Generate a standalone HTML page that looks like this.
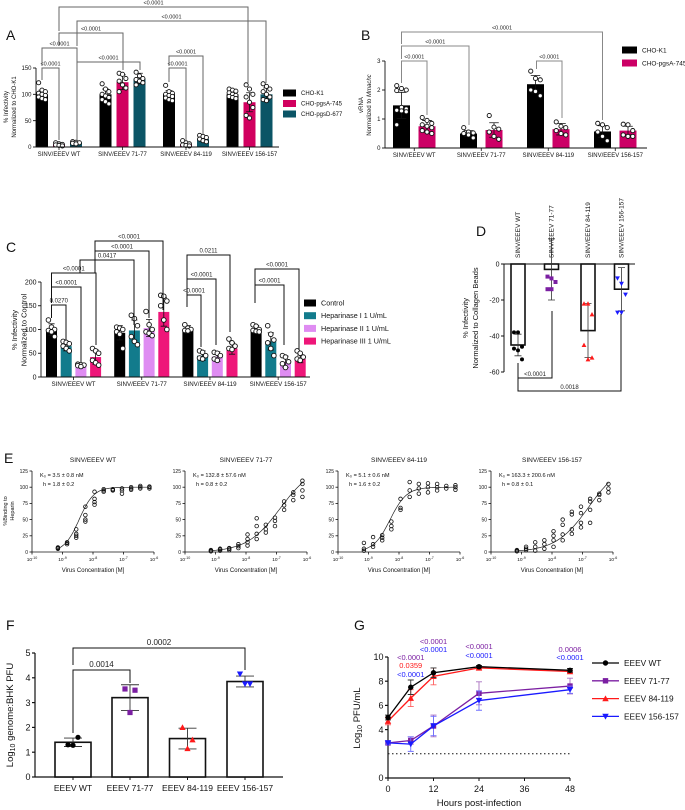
<!DOCTYPE html>
<html><head><meta charset="utf-8"><style>
html,body{margin:0;padding:0;background:#fff;}
svg{display:block;font-family:"Liberation Sans",sans-serif;}
</style></head><body>
<svg id="fig" width="685" height="810" viewBox="0 0 685 810" xmlns="http://www.w3.org/2000/svg"></svg>
<script>
// ---------- DATA ----------
const groupsSINV=['SINV/EEEV WT','SINV/EEEV 71-77','SINV/EEEV 84-119','SINV/EEEV 156-157'];
// Panel A
const aSeries=['CHO-K1','CHO-pgsA-745','CHO-pgsD-677'];
const aK1=[100,100,100,100];
const aPgsA=[5,123,5,85];
const aPgsD=[8,130,15,100];
const aK1Err=[8,10,7,6];
const aPgsAErr=[2,14,3,18];
const aPgsDErr=[2,10,4,12];
const aK1Pts=[[122,108,105,102,100,98,95,92,90],[120,110,105,100,97,94,90,86,82],[117,105,102,100,98,96,93,90,88],[110,108,106,103,100,98,96,94,92]];
const aPgsAPts=[[8,6,5,4,3,2],[140,138,130,125,118,112,105],[12,8,6,4,3,2],[118,110,100,95,85,75,60,55]];
const aPgsDPts=[[10,9,8,7,6],[142,135,130,128,125,122,118],[22,20,18,15,12,10],[120,115,110,105,100,95,90,88]];
const aTicks=[0,50,100,150];
// Panel B
const bSeries=['CHO-K1','CHO-pgsA-745'];
const bK1=[1.47,0.5,2.2,0.57];
const bPgsA=[0.75,0.62,0.65,0.6];
const bK1Err=[0.45,0.1,0.3,0.2];
const bPgsAErr=[0.2,0.25,0.2,0.15];
const bK1Pts=[[2.15,2.05,2.0,1.98,1.4,1.35,1.3,1.28,1.25,0.8],[0.7,0.55,0.52,0.5,0.45,0.35],[2.65,2.4,2.35,2.0,1.95,1.8],[0.85,0.8,0.7,0.55,0.4,0.25]];
const bPgsAPts=[[1.05,0.95,0.85,0.8,0.75,0.7,0.6,0.55,0.5],[1.12,0.72,0.65,0.55,0.4,0.3],[0.9,0.75,0.7,0.6,0.5,0.45],[0.82,0.8,0.6,0.45,0.4,0.4]];
const bTicks=[0,1,2,3];
// Panel C
const cSeries=['Control','Heparinase I 1 U/mL','Heparinase II 1 U/mL','Heparinase III 1 U/mL'];
const cCtrl=[100,93,100,100];
const cHep1=[65,98,45,75];
const cHep2=[25,103,43,32];
const cHep3=[42,137,60,38];
const cCtrlErr=[12,15,8,8];
const cHep1Err=[10,22,10,18];
const cHep2Err=[3,18,10,12];
const cHep3Err=[15,30,12,8];
const cCtrlPts=[[120,105,100,98,95,85],[105,103,100,95,90,60],[110,103,100,98,97],[110,107,100,98,96,95]];
const cHep1Pts=[[75,73,70,65,60,55],[130,123,108,85,75,68],[55,52,45,40,38],[108,90,78,72,60,45]];
const cHep2Pts=[[27,26,25,24,22],[138,110,100,95,92,87],[52,50,45,38,35],[45,42,32,28,20]];
const cHep3Pts=[[60,55,50,35,30,25],[172,170,160,150,120,100],[80,72,65,60,58],[55,50,42,38,35]];
const cTicks=[0,50,100,150,200];
// Panel D
const dMeans=[-45,-3,-37,-14];
const dErr=[6,17,15,12];
const dPts=[[-38,-38,-46,-47,-48,-53],[-7,-8,-10,-14,-14],[-22,-22,-28,-45,-53,-52],[-8,-11,-17,-27,-27]];
const dTicks=[0,-20,-40,-60];
// Panel E
const eTitles=['SINV/EEEV WT','SINV/EEEV 71-77','SINV/EEEV 84-119','SINV/EEEV 156-157'];
const eKdText=['K\u2080 = 3.5 ± 0.8 nM','K\u2080 = 132.8 ± 57.6 nM','K\u2080 = 5.1 ± 0.6 nM','K\u2080 = 163.3 ± 200.6 nM'];
const eHText=['h = 1.8 ± 0.2','h = 0.8 ± 0.2','h = 1.6 ± 0.2','h = 0.8 ± 0.1'];
const eKd=[3.5e-9,132.8e-9,5.1e-9,163.3e-9];
const eHill=[1.8,0.8,1.6,0.8];
const eBmax=[100,135,100,140];
const eLogConc=[-9.15,-8.85,-8.55,-8.25,-7.95,-7.65,-7.35,-7.05,-6.75,-6.45,-6.15];
const eWT=[[6,7,5],[12,14,15],[22,25,28,35],[47,50,57,70],[73,77,82,93],[93,95,97],[95,96,97],[90,95,98],[96,98,100],[98,100,102],[98,100,101]];
const e7177=[[1,2,3],[2,4,5],[3,5,6],[6,9,12],[10,15,20,27],[20,28,40,52],[30,35,42],[40,48,53],[65,72,78],[80,88,92],[85,95,105,110]];
const e84119=[[2,5,14],[8,12,23],[18,22,26],[35,40,47],[65,68,82],[85,95,108],[90,98,105],[92,100,106],[95,100,105],[98,102],[96,100,103]];
const e156157=[[1,2,3],[3,5,8],[2,8,15],[5,12,18],[8,18,25,32],[18,27,42,50],[28,35,58,62],[38,45,60,70],[45,65,78,82],[80,88,90],[92,98,105]];
const eYTicks=[0,25,50,75,100,125];
const eXTicks=[-10,-9,-8,-7,-6];
// Panel F
const fGroups=['EEEV WT','EEEV 71-77','EEEV 84-119','EEEV 156-157'];
const fMeans=[1.4,3.2,1.55,3.85];
const fErr=[0.17,0.52,0.42,0.22];
const fPts=[[1.3,1.6,1.28],[3.55,3.5,2.6],[2.0,1.5,1.15],[4.15,3.75,3.75]];
const fTicks=[0,1,2,3,4,5];
// Panel G
const gSeries=['EEEV WT','EEEV 71-77','EEEV 84-119','EEEV 156-157'];
const gTimes=[0,6,12,24,48];
const gWT=[5,7.5,8.7,9.2,8.9];
const g7177=[2.9,3.1,4.3,7.0,7.6];
const g84119=[4.7,6.6,8.4,9.1,8.8];
const g156157=[2.9,2.8,4.3,6.4,7.3];
const gWTErr=[0.2,0.6,0.4,0.1,0.15];
const g7177Err=[0.1,0.3,0.9,0.95,0.65];
const g84119Err=[0.3,0.7,0.7,0.1,0.1];
const g156157Err=[0.1,0.6,0.8,0.8,0.3];
const gXTicks=[0,12,24,36,48];
const gYTicks=[0,4,6,8,10];
const gLOD=2;

// ---------- HELPERS ----------
const NS='http://www.w3.org/2000/svg';
const svg=document.getElementById('fig');
function mk(tag,a,p){const e=document.createElementNS(NS,tag);for(const k in a)e.setAttribute(k,a[k]);(p||svg).appendChild(e);return e;}
function tx(x,y,s,size,opt,p){const e=mk('text',Object.assign({x:x,y:y,'font-size':size,'text-anchor':'middle',fill:'#111'},opt||{}),p);e.textContent=s;return e;}
function grp(name){const g=mk('g',{});


return g;}
function marker(p,shape,x,y,r,color){
  let e;
  if(shape==='open'){e=mk('circle',{cx:x,cy:y,r:r,fill:'#fff',stroke:'#111','stroke-width':0.9},p);}
  else if(shape==='dot'){e=mk('circle',{cx:x,cy:y,r:r,fill:color},p);}
  else if(shape==='sq'){e=mk('rect',{x:x-r,y:y-r,width:2*r,height:2*r,fill:color},p);}
  else if(shape==='up'){e=mk('polygon',{points:`${x},${y-r*1.2} ${x-r*1.2},${y+r} ${x+r*1.2},${y+r}`,fill:color},p);}
  else {e=mk('polygon',{points:`${x},${y+r*1.2} ${x-r*1.2},${y-r} ${x+r*1.2},${y-r}`,fill:color},p);}
  
  
  return e;}
function errbar(p,x,y1,y2,cap,color,w){
  const e=mk('path',{d:`M${x},${y1}V${y2}M${x-cap},${y1}H${x+cap}M${x-cap},${y2}H${x+cap}`,stroke:color||'#111','stroke-width':w||0.8,fill:'none'},p);
  
  }
function bracket(p,x1,x2,y,b1,b2,label,fs,color,dy){
  const e=mk('path',{d:`M${x1},${b1}V${y}H${x2}V${b2}`,stroke:color,'stroke-width':1,fill:'none'},p);
  
  
  const t=tx((x1+x2)/2,y+(dy||-2.5),label,fs,{fill:'#222'},p);
  
  }
function axisY(p,x,ticks,ys,fs,tickLen,w,fmt){
  const a=mk('line',{x1:x,x2:x,y1:ys(ticks[ticks.length-1]),y2:ys(ticks[0]),stroke:'#111','stroke-width':w},p);
  
  
  ticks.forEach(v=>{
    const l=mk('line',{x1:x-tickLen,x2:x,y1:ys(v),y2:ys(v),stroke:'#111','stroke-width':w},p);
    
    
    const t=tx(x-tickLen-1.5,ys(v)+fs*0.35,fmt?fmt(v):String(v),fs,{'text-anchor':'end'},p);
    
    });}
function ylabel(p,x,y,lines,fs,gap){
  lines.forEach((s,i)=>{const t=tx(x+i*gap,y,'',fs,{transform:`rotate(-90 ${x+i*gap} ${y})`},p);
    if(Array.isArray(s)){s.forEach(seg=>{const ts=mk('tspan',seg[1]||{},t);ts.textContent=seg[0];});}else t.textContent=s;
    
    });}
function panelLabel(s,x,y){const t=tx(x,y,s,14,{'text-anchor':'start'});
  
  }

function groupedBars(p,cfg){
  cfg.series.forEach((vals,s)=>{
    vals.forEach((v,g)=>{
      const cx=cfg.x(g,s);
      const r=mk('rect',{x:cx-cfg.bw/2,y:cfg.y(v),width:cfg.bw,height:cfg.y(0)-cfg.y(v),fill:cfg.colors[s]},p);
      
      
      const e=cfg.errs[s][g];
      errbar(p,cx,cfg.y(v+e),cfg.y(Math.max(0,v-e)),cfg.bw*0.28,'#111',0.8);
      const pts=cfg.pts[s][g];
      pts.forEach((pv,i)=>{const off=((i%3)-1)*cfg.bw*0.28;marker(p,'open',cx+off,cfg.y(pv),cfg.r);});
    });});
  const ax=mk('line',{x1:cfg.x0,x2:cfg.x1,y1:cfg.y(0),y2:cfg.y(0),stroke:'#111','stroke-width':0.9},p);
  
  
  cfg.groups.forEach((gname,g)=>{
    const mid=(cfg.x(g,0)+cfg.x(g,cfg.series.length-1))/2;
    const tk=mk('line',{x1:mid,x2:mid,y1:cfg.y(0),y2:cfg.y(0)+3,stroke:'#111','stroke-width':0.8},p);
    
    
    const t=tx(mid,cfg.y(0)+cfg.fs+3,gname,cfg.fs,{},p);
    
    });}
function legendBox(p,x,y,names,colors,fs,step,w,h){
  names.forEach((n,i)=>{
    const r=mk('rect',{x:x,y:y+i*step-h/2,width:w,height:h,fill:colors[i]},p);
    
    
    const t=tx(x+w+5,y+i*step+fs*0.35,n,fs,{'text-anchor':'start'},p);
    
    });}

// ---------- PANEL A ----------
(function(){
  const p=grp('panel-a');
  panelLabel('A',6,40);
  const y=v=>147-v*79/150;
  const x=(g,s)=>42+g*63.5+s*17;
  axisY(p,36,aTicks,y,6,3,0.9);
  ylabel(p,8,107,['% Infectivity','Normalized to CHO-K1'],6,8);
  groupedBars(p,{series:[aK1,aPgsA,aPgsD],errs:[aK1Err,aPgsAErr,aPgsDErr],pts:[aK1Pts,aPgsAPts,aPgsDPts],
    names:aSeries,colors:['#000','#d1005f','#0b5566'],x:x,y:y,bw:12,r:2.1,x0:36,x1:279,groups:groupsSINV,fs:6});
  const c='#666';
  bracket(p,42,59,68,80,140,'<0.0001',5.5,c);
  bracket(p,42,77,48,66,140,'<0.0001',5.5,c);
  bracket(p,59,123,33,46,70,'<0.0001',5.5,c);
  bracket(p,77,140,62,140,70,'<0.0001',5.5,c);
  bracket(p,59,248,7,31,83,'<0.0001',5.5,c);
  bracket(p,77,266,21,46,83,'<0.0001',5.5,c);
  bracket(p,169,186,68,82,140,'<0.0001',5.5,c);
  bracket(p,169,203,56,66,135,'<0.0001',5.5,c);
  legendBox(p,283,93,aSeries,['#000','#d1005f','#0b5566'],6,10.5,13,7);
})();

// ---------- PANEL B ----------
(function(){
  const p=grp('panel-b');
  panelLabel('B',361,40);
  const y=v=>148-v*29;
  const x=(g,s)=>401.5+g*67+s*25.5;
  axisY(p,385,bTicks,y,6,3,0.9);
  ylabel(p,363,105,['vRNA',[['Normalized to '],['Mmachc',{'font-style':'italic'}]]],6,8);
  groupedBars(p,{series:[bK1,bPgsA],errs:[bK1Err,bPgsAErr],pts:[bK1Pts,bPgsAPts],
    names:bSeries,colors:['#000','#cc0066'],x:x,y:y,bw:17,r:2.1,x0:385,x1:647,groups:groupsSINV,fs:6});
  const c='#888';
  bracket(p,401.5,427,61,83,115,'<0.0001',5.5,c);
  bracket(p,401.5,469,46,59,125,'<0.0001',5.5,c);
  bracket(p,401.5,602.5,32,44,120,'<0.0001',5.5,c);
  bracket(p,536.5,562,61,69,118,'<0.0001',5.5,c);
  legendBox(p,622,50,bSeries,['#000','#cc0066'],6.5,13,15,7);
})();

// ---------- PANEL C ----------
(function(){
  const p=grp('panel-c');
  panelLabel('C',6,252);
  const y=v=>377-v*0.475;
  const x=(g,s)=>51.5+g*68.2+s*14.7;
  axisY(p,41,cTicks,y,7,3,0.9);
  ylabel(p,17,330,['% Infectivity','Normalized to Control'],7.5,9.5);
  const cols=['#000','#127b8c','#df8cf2','#ee1679'];
  groupedBars(p,{series:[cCtrl,cHep1,cHep2,cHep3],errs:[cCtrlErr,cHep1Err,cHep2Err,cHep3Err],pts:[cCtrlPts,cHep1Pts,cHep2Pts,cHep3Pts],
    names:cSeries,colors:cols,x:x,y:y,bw:11,r:2.3,x0:41,x1:310,groups:groupsSINV,fs:6.2});
  const c='#111';
  bracket(p,51.5,66,305,318,340,'0.0270',6,c);
  bracket(p,51.5,81,287,303,362,'<0.0001',6,c);
  bracket(p,51.5,96,273,287,345,'<0.0001',6,c);
  bracket(p,80,134,260,273,325,'0.0417',6,c);
  bracket(p,95,149,251,273,318,'<0.0001',6,c);
  bracket(p,95,163,241,251,310,'<0.0001',6,c);
  bracket(p,187,201,295,307,347,'<0.0001',6,c);
  bracket(p,187,216,279,295,345,'<0.0001',6,c);
  bracket(p,187,230,255,279,332,'0.0211',6,c);
  bracket(p,255,284,285,303,345,'<0.0001',6,c);
  bracket(p,255,299,269,285,350,'<0.0001',6,c);
  legendBox(p,304,303,cSeries,cols,7.2,12.7,12,7);
})();

// ---------- PANEL D ----------
(function(){
  const p=grp('panel-d');
  panelLabel('D',476,236);
  const y=v=>264-v*1.8;
  const xs=[518,551.5,588,621.5];
  const shapes=['dot','sq','up','down'];
  const cols=['#000','#7b1fa2','#ff1a1a','#1a1aff'];
  axisY(p,504,dTicks,y,7,3,1);
  ylabel(p,468,318,['% Infectivity','Normalized to Collagen Beads'],7.5,10);
  const ax=mk('line',{x1:504,x2:635,y1:y(0),y2:y(0),stroke:'#111','stroke-width':1},p);
  
  
  dMeans.forEach((v,i)=>{
    const r=mk('rect',{x:xs[i]-7,y:y(0),width:14,height:y(v)-y(0),fill:'#fff',stroke:'#111','stroke-width':1.6},p);
    
    
    errbar(p,xs[i],y(v+dErr[i]),y(v-dErr[i]),3.5,'#333',0.8);
    dPts[i].forEach((pv,j)=>{marker(p,shapes[i],xs[i]+((j%3)-1)*4,y(pv),2,cols[i]);});
    const t=tx(xs[i]+2,258,groupsSINV[i],6.5,{'text-anchor':'start',transform:`rotate(-90 ${xs[i]+2} 258)`},p);
    
    
  });
  bracket(p,518,552,378,363,311,'<0.0001',6,'#111',-2);
  bracket(p,518,621,391,378,314,'0.0018',6,'#111',-2);
})();

// ---------- PANEL E ----------
(function(){
  const p=grp('panel-e');
  panelLabel('E',4,463);
  const datasets=[eWT,e7177,e84119,e156157];
  const ye=v=>552-v*0.648;
  ylabel(p,7,511,['%Binding to','Heparin'],5.5,7);
  datasets.forEach((ds,k)=>{
    const sp=grp('binding-plot-'+k);
    p.appendChild(sp);
    const x0=32+k*153;
    const xe=l=>x0+(l+10)*30.5;
    const tt=tx(x0+61,462,eTitles[k],6.5,{},sp);
    
    
    axisY(sp,x0,eYTicks,ye,5,2.5,0.8);
    const ax=mk('line',{x1:x0,x2:xe(-6),y1:ye(0),y2:ye(0),stroke:'#111','stroke-width':0.8},sp);
    
    
    eXTicks.forEach(l=>{
      const tk=mk('line',{x1:xe(l),x2:xe(l),y1:ye(0),y2:ye(0)+2.5,stroke:'#111','stroke-width':0.8},sp);
      
      
      const t=tx(xe(l),ye(0)+9,'10',4.8,{},sp);
      const sup=mk('tspan',{dy:-2,'font-size':3.6},t);
      sup.textContent=String(l);
      
      
    });
    const xl=tx(x0+61,572,'Virus Concentration [M]',6,{},sp);
    
    
    const k1=tx(x0+8,477,eKdText[k],5.6,{'text-anchor':'start'},sp);
    
    
    const k2=tx(x0+11,486,eHText[k],5.6,{'text-anchor':'start'},sp);
    
    
    let d='';
    for(let l=eLogConc[0]-0.05;l<=eLogConc[eLogConc.length-1]+0.05;l+=0.05){
      const c=Math.pow(10,l);
      const v=eBmax[k]*Math.pow(c,eHill[k])/(Math.pow(eKd[k],eHill[k])+Math.pow(c,eHill[k]));
      d+=(d?'L':'M')+xe(l).toFixed(1)+','+ye(v).toFixed(1);
    }
    const fit=mk('path',{d:d,fill:'none',stroke:'#222','stroke-width':0.7},sp);
    
    
    ds.forEach((vals,i)=>{vals.forEach(v=>{
      const c=mk('circle',{cx:xe(eLogConc[i]),cy:ye(v),r:1.8,fill:'none',stroke:'#111','stroke-width':0.8},sp);
      
      });});
  });
})();

// ---------- PANEL F ----------
(function(){
  const p=grp('panel-f');
  panelLabel('F',6,630);
  const y=v=>777-v*24.8;
  const xs=[73,130,187.5,245];
  const shapes=['dot','sq','up','down'];
  const cols=['#000','#7b1fa2','#ff1a1a','#1a1aff'];
  axisY(p,35,fTicks,y,9,3,1.2);
  const yt=tx(13,715,'',9.5,{transform:'rotate(-90 13 715)'},p);
  const t1=mk('tspan',{},yt);t1.textContent='Log';
  const t2=mk('tspan',{'font-size':7,dy:2},yt);t2.textContent='10';
  const t3=mk('tspan',{dy:-2},yt);t3.textContent=' genome:BHK PFU';
  
  
  const ax=mk('line',{x1:35,x2:283,y1:y(0),y2:y(0),stroke:'#111','stroke-width':1.2},p);
  
  
  fMeans.forEach((v,i)=>{
    const r=mk('rect',{x:xs[i]-18,y:y(v),width:36,height:y(0)-y(v),fill:'#fff',stroke:'#111','stroke-width':1.6},p);
    
    
    errbar(p,xs[i],y(v+fErr[i]),y(v-fErr[i]),9,'#333',0.9);
    fPts[i].forEach((pv,j)=>{marker(p,shapes[i],xs[i]+[-5,5,0][j],y(pv),2.6,cols[i]);});
    const tk=mk('line',{x1:xs[i],x2:xs[i],y1:y(0),y2:y(0)+3,stroke:'#111','stroke-width':1},p);
    
    
    const t=tx(xs[i],791,fGroups[i],8.5,{},p);
    
    
  });
  bracket(p,73,130,670,733,683,'0.0014',8,'#111',-3);
  bracket(p,73,245,648,665,670,'0.0002',8,'#111',-3);
})();

// ---------- PANEL G ----------
(function(){
  const p=grp('panel-g');
  panelLabel('G',354,630);
  const x=t=>388+t*182/48;
  const y=v=>778-v*12.1;
  axisY(p,388,gYTicks,y,9,3,1.2);
  const yt=tx(360,718,'',9.5,{transform:'rotate(-90 360 718)'},p);
  const t1=mk('tspan',{},yt);t1.textContent='Log';
  const t2=mk('tspan',{'font-size':7,dy:2},yt);t2.textContent='10';
  const t3=mk('tspan',{dy:-2},yt);t3.textContent=' PFU/mL';
  
  
  const ax=mk('line',{x1:388,x2:x(48),y1:y(0),y2:y(0),stroke:'#111','stroke-width':1.2},p);
  
  
  gXTicks.forEach(t=>{
    const tk=mk('line',{x1:x(t),x2:x(t),y1:y(0),y2:y(0)+3,stroke:'#111','stroke-width':1},p);
    
    
    const l=tx(x(t),792,String(t),9,{},p);
    
    
  });
  const xt=tx(x(24),806,'Hours post-infection',9.5,{},p);
  
  
  const lod=mk('line',{x1:x(0),x2:x(48),y1:y(gLOD),y2:y(gLOD),stroke:'#111','stroke-width':1,'stroke-dasharray':'1.5 2.5'},p);
  
  
  const series=[gWT,g7177,g84119,g156157];
  const errs=[gWTErr,g7177Err,g84119Err,g156157Err];
  const cols=['#000','#7b1fa2','#ff1a1a','#1a1aff'];
  const shapes=['dot','sq','up','down'];
  const errCols=['#333','#a870c0','#ff6060','#7070ff'];
  [1,3,2,0].forEach(s=>{
    series[s].forEach((v,i)=>{errbar(p,x(gTimes[i]),y(v+errs[s][i]),y(v-errs[s][i]),3,errCols[s],0.9);});
    const d=series[s].map((v,i)=>(i?'L':'M')+x(gTimes[i])+','+y(v)).join('');
    const ln=mk('path',{d:d,fill:'none',stroke:cols[s],'stroke-width':1.3},p);
    
    
    series[s].forEach((v,i)=>{marker(p,shapes[s],x(gTimes[i]),y(v),2.7,cols[s]);});
  });
  gSeries.forEach((n,i)=>{
    const yy=663+i*17.8;
    const l=mk('line',{x1:592,x2:619,y1:yy,y2:yy,stroke:cols[i],'stroke-width':1.3},p);
    
    
    marker(p,shapes[i],605.5,yy,2.7,cols[i]);
    const t=tx(624,yy+3,n,8.3,{'text-anchor':'start'},p);
    
    
  });
  const ann=[[x(6),660,'<0.0001','#7b1fa2'],[x(6),668,'0.0359','#ff1a1a'],[x(6),677,'<0.0001','#1a1aff'],
             [x(12),644,'<0.0001','#7b1fa2'],[x(12),652,'<0.0001','#1a1aff'],
             [x(24),649,'<0.0001','#7b1fa2'],[x(24),658,'<0.0001','#1a1aff'],
             [x(48),652,'0.0006','#7b1fa2'],[x(48),660,'<0.0001','#1a1aff']];
  ann.forEach(a=>{const t=tx(a[0],a[1],a[2],7.5,{fill:a[3]},p);
    
    });
})();
</script>
</body></html>
